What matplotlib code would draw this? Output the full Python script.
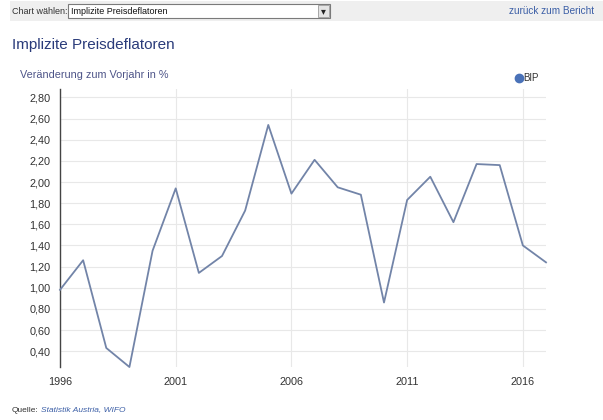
import numpy as np
import matplotlib
matplotlib.use("Agg")
import matplotlib.pyplot as plt
from matplotlib.patches import Rectangle
from matplotlib.lines import Line2D

plt.rcParams['font.family'] = ['Liberation Sans', 'DejaVu Sans']

# BIP deflator, change vs previous year in %
years = list(range(1996, 2018))
bip = [0.98, 1.26, 0.43, 0.25, 1.35, 1.94, 1.14, 1.30, 1.73, 2.54, 1.89,
       2.21, 1.95, 1.88, 0.86, 1.83, 2.05, 1.62, 2.17, 2.16, 1.40, 1.24]
yticks = [0.40, 0.60, 0.80, 1.00, 1.20, 1.40, 1.60, 1.80, 2.00, 2.20,
          2.40, 2.60, 2.80]
xticks = [1996, 2001, 2006, 2011, 2016]

W, H = 603, 420
fig = plt.figure(figsize=(W / 100, H / 100), dpi=100)

# page header bar
fig.patches.append(Rectangle((10 / W, 1 - 21 / H), 593 / W, 20 / H,
                             transform=fig.transFigure, facecolor='#efefef',
                             edgecolor='none', zorder=0))
fig.patches.append(Rectangle((68 / W, 1 - 18 / H), 262 / W, 14 / H,
                             transform=fig.transFigure, facecolor='white',
                             edgecolor='#7a7a7a', lw=0.8, zorder=1))
fig.patches.append(Rectangle((318 / W, 1 - 17 / H), 11 / W, 12 / H,
                             transform=fig.transFigure, facecolor='#e4e4e4',
                             edgecolor='#9a9a9a', lw=0.6, zorder=2))
fig.text(323.5 / W, 1 - 11 / H, '\u25BE', fontsize=7, ha='center', va='center',
         color='#222222', family='DejaVu Sans')
fig.text(12 / W, 1 - 11 / H, 'Chart wählen:', fontsize=6.5, va='center',
         color='#333333')
fig.text(71 / W, 1 - 11 / H, 'Implizite Preisdeflatoren', fontsize=6.5,
         va='center', color='#111111')
fig.text(594 / W, 1 - 11 / H, 'zurück zum Bericht', fontsize=7.2, va='center',
         ha='right', color='#3b5ea6')

fig.text(12 / W, 1 - 45 / H, 'Implizite Preisdeflatoren', fontsize=11,
         va='center', color='#2a3b7a')
fig.text(20 / W, 1 - 75 / H, 'Veränderung zum Vorjahr in %', fontsize=7.8,
         va='center', color='#4d5488')

ax = fig.add_axes([60 / W, 53 / H, 486 / W, 278 / H])
ax.plot(years, bip, color='#7284a8', lw=1.3, zorder=3, clip_on=False)

ax.set_xlim(1996, 2017)
ax.set_ylim(0.25, 2.88)
ax.set_yticks(yticks)
ax.set_yticklabels([('%.2f' % v).replace('.', ',') for v in yticks])
ax.set_xticks(xticks)
ax.set_xticklabels([str(x) for x in xticks])
ax.grid(True, color='#e8e8e8', lw=0.8)
ax.set_axisbelow(True)
for s in ['top', 'right', 'bottom']:
    ax.spines[s].set_visible(False)
ax.spines['left'].set_color('#444444')
ax.spines['left'].set_linewidth(1.0)
ax.tick_params(axis='y', length=0, pad=7, labelsize=7.8, labelcolor='#333333')
ax.tick_params(axis='x', length=0, pad=7, labelsize=7.8, labelcolor='#333333')

# legend
fig.add_artist(Line2D([519 / W], [1 - 78 / H], marker='o', markersize=6,
                      color='#4a72b8', linestyle='none',
                      transform=fig.transFigure))
fig.text(523 / W, 1 - 78 / H, 'BIP', fontsize=7, va='center', color='#333333')

# source line
fig.text(12 / W, 1 - 410 / H, 'Quelle:', fontsize=6, va='center',
         color='#333333')
fig.text(41 / W, 1 - 410 / H, 'Statistik Austria, WIFO', fontsize=6,
         va='center', color='#3b5ea6', style='italic')

fig.savefig('out.png', dpi=100)
